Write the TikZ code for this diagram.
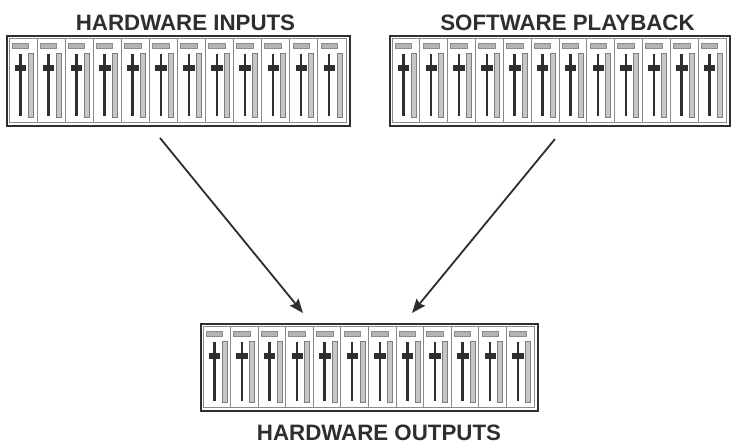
\documentclass[tikz,border=0pt]{standalone}
\usepackage{fontspec}
\setmainfont{Liberation Sans}
\usetikzlibrary{arrows.meta}
\definecolor{ink}{HTML}{2E2E2E}
\definecolor{sepgray}{HTML}{8A8A8A}
\definecolor{labfill}{HTML}{B4B4B4}
\definecolor{labdraw}{HTML}{8C8C8C}
\definecolor{meterfill}{HTML}{C6C6C6}
\definecolor{meterdraw}{HTML}{7E7E7E}
\tikzset{
  panel/.style={draw=ink, line width=2pt, inner sep=0pt, anchor=north west, fill=white},
  innerframe/.style={draw=sepgray, line width=0.8pt},
  sepline/.style={draw=sepgray, line width=0.9pt},
  chlabel/.style={fill=labfill, draw=labdraw, line width=0.6pt},
  track/.style={draw=ink, line width=2.4pt},
  fadercap/.style={fill=ink, draw=ink, line width=0.4pt},
  meter/.style={fill=meterfill, draw=meterdraw, line width=0.7pt},
  title/.style={font=\bfseries\fontsize{22.3}{26}\selectfont, text=ink, inner sep=0pt, text depth=0pt, anchor=base},
  arr/.style={draw=ink, line width=1.8pt, -{Stealth[length=14pt,width=11pt,inset=2pt]}}
}
% #1 name, #2 left, #3 top, #4 right, #5 bottom
\newcommand\mixerpanel[5]{%
  \pgfmathsetmacro\pw{#4-#2}%
  \pgfmathsetmacro\ph{#5-#3}%
  \node[panel, minimum width=\pw pt, minimum height=\ph pt] (#1) at (#2,#3) {};
  \draw[innerframe] (#2+3,#3+3) rectangle (#4-3,#5-3);
  \foreach \i in {0,...,11}{%
    \pgfmathsetmacro\cx{#2+3+\i*(#4-#2-6)/12}%
    \ifnum\i>0 \draw[sepline] (\cx,#3+3) -- (\cx,#5-3); \fi
    \draw[chlabel] (\cx+3,#3+8) rectangle (\cx+19.5,#3+13);
    \draw[meter] (\cx+19,#3+18) rectangle (\cx+24,#5-8);
    \draw[track] (\cx+11.3,#3+19) -- (\cx+11.3,#5-9);
    \draw[fadercap] (\cx+6,#3+30) rectangle (\cx+16.5,#3+35);
  }%
}
\begin{document}
\begin{tikzpicture}[x=1pt,y=-1pt]
  \useasboundingbox (0,0) rectangle (734,445);
  \fill[white] (0,0) rectangle (734,445);

  \node[title] (t1) at (185.5,30) {HARDWARE INPUTS};
  \node[title] (t2) at (567.5,30) {SOFTWARE PLAYBACK};
  \node[title] (t3) at (379,440.5) {HARDWARE OUTPUTS};

  \mixerpanel{hwin}{6}{35}{349}{125}
  \mixerpanel{swpb}{389}{35}{729}{125}
  \mixerpanel{hwout}{200}{323}{537}{410}

  \coordinate (a1s) at (160,138);
  \coordinate (a1e) at (303,313);
  \coordinate (a2s) at (555,139);
  \coordinate (a2e) at (412,313);
  \draw[arr] (a1s) -- (a1e);
  \draw[arr] (a2s) -- (a2e);
\end{tikzpicture}
\end{document}
